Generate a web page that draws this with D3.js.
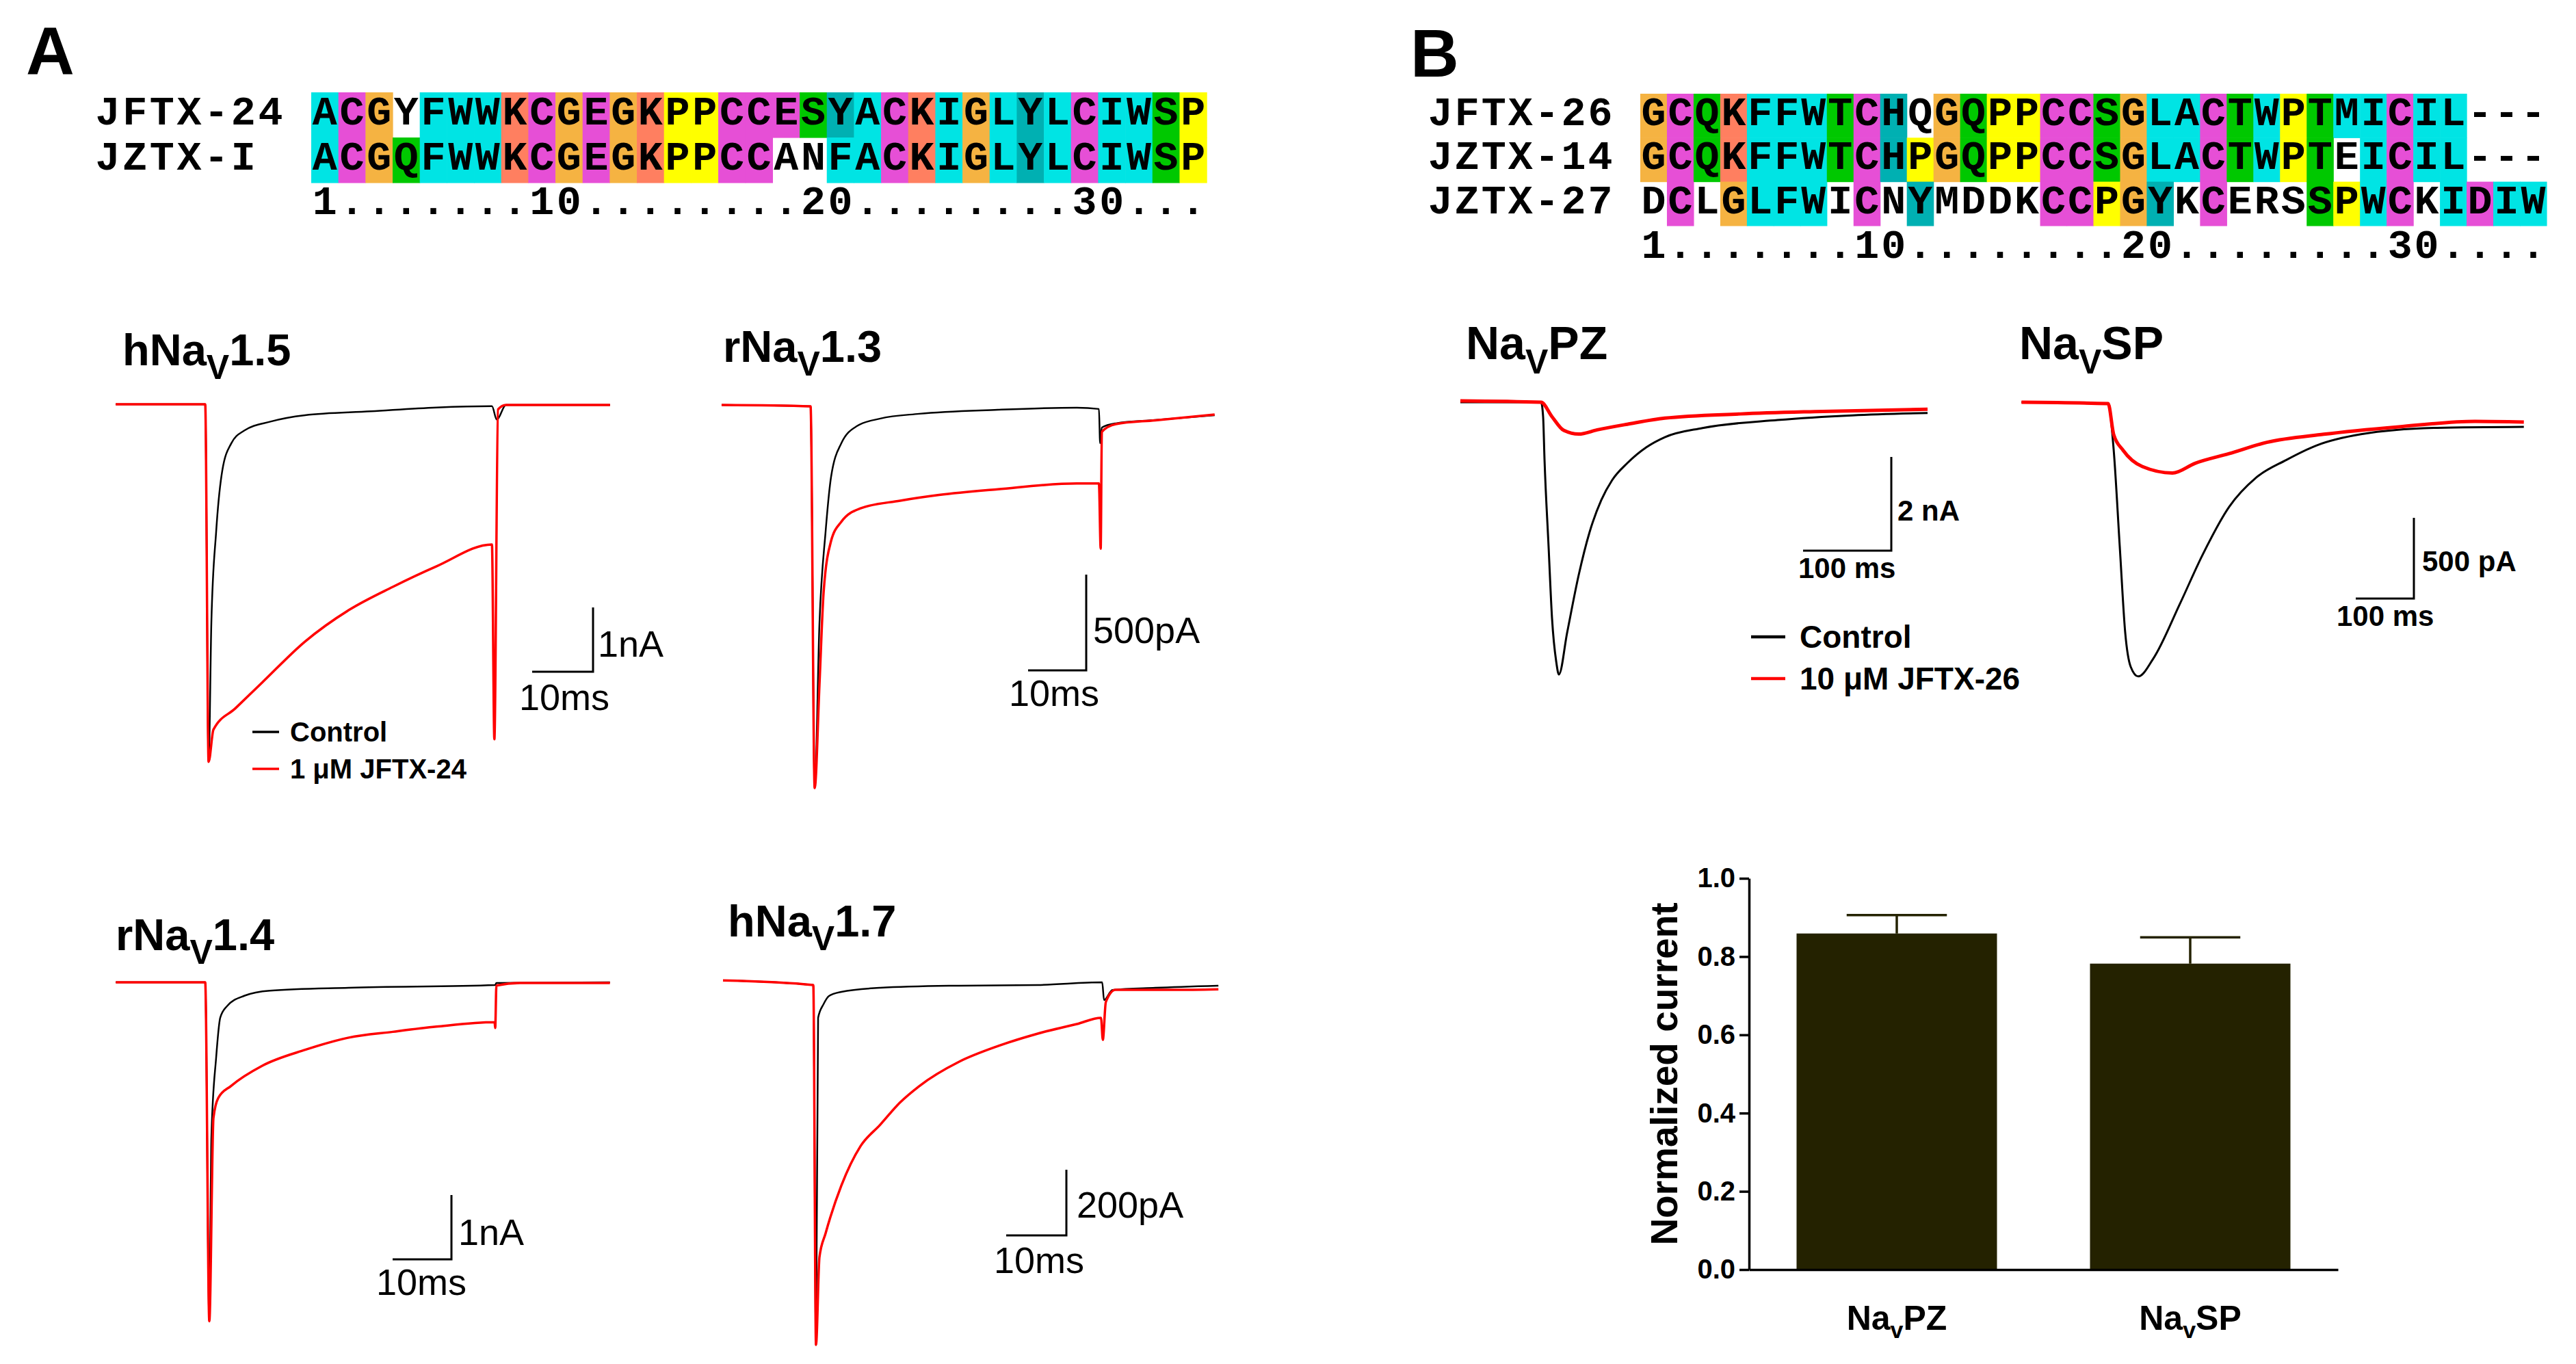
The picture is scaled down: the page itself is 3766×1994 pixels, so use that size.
<!DOCTYPE html>
<html>
<head>
<meta charset="utf-8">
<script src="https://cdn.jsdelivr.net/npm/d3@7.9.0/dist/d3.min.js"></script>
<style>
  html, body { margin: 0; padding: 0; background: #fff; }
  svg { display: block; }
  text { font-family: Arial, 'Liberation Sans', Helvetica, sans-serif; }
  .seq { font-family: 'Courier New', 'Liberation Mono', monospace; font-weight: bold; }
</style>
</head>
<body>
<svg id="fig"></svg>
<script>
// ---- alignment data ----
const alignANames = ['JFTX-24', 'JZTX-I'];
const alignASeqs = ['ACGYFWWKCGEGKPPCCESYACKIGLYLCIWSP', 'ACGQFWWKCGEGKPPCCANFACKIGLYLCIWSP'];
// colour class per residue (w = no shading)
const alignAColors = ['cmowcccrmomoryymmmgtcmrcoctcmccgy', 'cmogcccrmomoryymmwwccmrcoctcmccgy'];
const alignARuler = '1.......10........20........30...';

const alignBNames = ['JFTX-26', 'JZTX-14', 'JZTX-27'];
const alignBSeqs = ['GCQKFFWTCHQGQPPCCSGLACTWPTMICIL---', 'GCQKFFWTCHPGQPPCCSGLACTWPTEICIL---', 'DCLGLFWICNYMDDKCCPGYKCERSSPWCKIDIW'];
const alignBColors = ['omgrcccgmtwogyymmgoccmgcygccmccwww', 'omgrcccgmtyogyymmgoccmgcygwcmccwww', 'wmwocccwmwtwwwwmmyotwmwwwgycmwcmcc'];
const alignBRuler = '1.......10........20........30....';

const residueColors = { c: '#00e4e4', m: '#e64fd6', o: '#f5b342', r: '#ff7f60', y: '#ffff00', g: '#00c800', t: '#00b0b2' };

// ---- current traces: [time (ms), current (nA)] ----
const hNav15Ctrl = [[-14.7,0],[0,0],[0.56,-5.56],[1.01,-3.40],[1.80,-1.98],[2.81,-1.03],[4.27,-0.61],[6.40,-0.41],[10.7,-0.27],[16.4,-0.17],[27.2,-0.11],[38.0,-0.05],[47.1,-0.03],[47.9,-0.24],[49.4,-0.01],[66.5,-0.01]];
const hNav15Tox = [[-14.7,0],[0,0],[0.56,-5.56],[1.35,-5.06],[4.94,-4.73],[9.33,-4.33],[16.4,-3.69],[23.6,-3.20],[30.8,-2.84],[38.0,-2.52],[47.1,-2.18],[47.5,-5.21],[48.1,-0.08],[49.4,-0.01],[66.5,-0.01]];

const rNav13Ctrl = [[-15.3,0],[0,-0.007],[0.71,-2.00],[1.53,-1.14],[2.59,-0.66],[3.53,-0.375],[5.29,-0.20],[8.0,-0.11],[12.0,-0.071],[18.7,-0.046],[32.2,-0.025],[45.8,-0.014],[49.6,-0.021],[49.8,-0.20],[50.1,-0.118],[52.5,-0.096],[59.3,-0.079],[69.5,-0.054]];
const rNav13Tox = [[-15.3,0],[0,-0.007],[0.71,-2.00],[1.53,-1.46],[2.24,-0.98],[3.53,-0.71],[5.29,-0.61],[8.59,-0.54],[15.4,-0.50],[22.1,-0.47],[32.2,-0.44],[45.8,-0.41],[49.6,-0.41],[49.9,-0.75],[50.1,-0.14],[52.5,-0.10],[59.3,-0.08],[69.5,-0.05]];

const rNav14Ctrl = [[-15.2,0],[0,0],[0.70,-5.27],[1.05,-2.41],[1.86,-1.17],[2.56,-0.55],[3.72,-0.37],[6.63,-0.21],[11.0,-0.13],[24.4,-0.085],[49.3,-0.043],[49.5,-0.01],[68.8,0]];
const rNav14Tox = [[-15.2,0],[0,0],[0.70,-5.27],[1.40,-2.11],[2.21,-1.80],[4.42,-1.61],[9.65,-1.30],[17.0,-1.05],[24.4,-0.86],[31.9,-0.77],[39.3,-0.69],[49.2,-0.62],[49.3,-0.71],[49.5,-0.05],[53.5,-0.01],[68.8,-0.01]];

const hNav17Ctrl = [[-15.0,0.010],[0,-0.004],[0.45,-1.10],[0.80,-0.104],[1.70,-0.0625],[2.61,-0.0375],[4.66,-0.025],[11.1,-0.0125],[24.2,-0.006],[37.3,-0.004],[48.0,0.004],[48.3,-0.050],[49.7,-0.019],[56.8,-0.0125],[67.3,-0.006]];
const hNav17Tox = [[-15.0,0.010],[0,-0.004],[0.45,-1.10],[1.02,-0.833],[2.05,-0.760],[4.66,-0.615],[7.84,-0.495],[11.1,-0.430],[14.4,-0.362],[17.6,-0.312],[24.2,-0.238],[30.7,-0.190],[37.3,-0.152],[43.8,-0.123],[47.8,-0.104],[48.1,-0.171],[48.6,-0.056],[50.2,-0.019],[60.1,-0.019],[67.3,-0.017]];

const navPZCtrl = [[-91.5,0],[0,0],[2.3,-0.31],[3.9,-1.23],[8.5,-3.08],[12.4,-4.61],[17.1,-5.53],[20.2,-5.81],[29.5,-4.92],[42.6,-3.69],[55.0,-2.77],[68.2,-2.09],[80.6,-1.66],[97.7,-1.30],[119.4,-0.96],[140.3,-0.745],[183,-0.55],[268,-0.38],[353,-0.28],[438,-0.23]];
const navPZTox = [[-91.5,0.03],[0,0],[12.4,-0.31],[25.6,-0.60],[42.6,-0.68],[63.6,-0.59],[97.7,-0.47],[140,-0.34],[226,-0.25],[310,-0.20],[438,-0.15]];

const navSPCtrl = [[-149,0.008],[0,0],[9.4,-0.28],[20,-0.886],[29.4,-1.42],[38.8,-1.63],[51.8,-1.69],[77.6,-1.58],[123.5,-1.24],[162,-0.94],[208,-0.64],[254,-0.46],[306,-0.35],[358,-0.26],[435,-0.19],[566,-0.15],[715,-0.144]];
const navSPTox = [[-149,0.008],[0,0],[9.4,-0.19],[25.9,-0.29],[58.8,-0.39],[110.6,-0.43],[149.4,-0.37],[208,-0.31],[273,-0.24],[371,-0.19],[500,-0.144],[631,-0.11],[715,-0.114]];

// ---- bar chart data ----
const barCats = ['PZ', 'SP'];
const barMeans = [0.859, 0.782];
const barSem = [0.047, 0.067];
const barTicks = [0, 0.2, 0.4, 0.6, 0.8, 1.0];

const W = 3766, H = 1994;
const svg = d3.select('#fig').attr('width', W).attr('height', H).attr('viewBox', `0 0 ${W} ${H}`);
svg.append('rect').attr('width', W).attr('height', H).attr('fill', '#fff');

// panel letters
svg.append('text').attr('x', 38).attr('y', 108).attr('font-size', 98).attr('font-weight', 'bold').text('A');
svg.append('text').attr('x', 2062).attr('y', 112).attr('font-size', 98).attr('font-weight', 'bold').text('B');

function drawAlignment(names, seqs, colors, ruler, cfg) {
  const g = svg.append('g');
  const n = seqs[0].length;
  const col = d3.scaleLinear().domain([0, n]).range([cfg.x0, cfg.x0 + n * cfg.pitch]);
  const row = d3.scaleBand().domain(d3.range(seqs.length)).range([cfg.top, cfg.top + seqs.length * cfg.rowH]);
  const cw = col(1) - col(0);

  seqs.forEach((seq, r) => {
    const cells = seq.split('').map((ch, i) => ({ ch, i, c: colors[r][i] }));
    g.append('g').selectAll('rect')
      .data(cells.filter((d) => d.c !== 'w'))
      .join('rect')
      .attr('x', (d) => col(d.i))
      .attr('y', row(r))
      .attr('width', cw + 0.6)
      .attr('height', row.bandwidth() + 0.6)
      .attr('fill', (d) => residueColors[d.c]);

    g.append('g').selectAll('text')
      .data(cells)
      .join('text')
      .attr('class', 'seq')
      .attr('x', (d) => col(d.i + 0.5))
      .attr('y', row(r) + cfg.base)
      .attr('text-anchor', 'middle')
      .attr('font-size', cfg.fs)
      .text((d) => d.ch);

    // name, one character per column, starting 8 columns before the sequence
    g.append('g').selectAll('text')
      .data(names[r].split(''))
      .join('text')
      .attr('class', 'seq')
      .attr('x', (d, j) => col(j - 8 + 0.5))
      .attr('y', row(r) + cfg.base)
      .attr('text-anchor', 'middle')
      .attr('font-size', cfg.fs)
      .text((d) => d);
  });

  g.append('g').selectAll('text')
    .data(ruler.split(''))
    .join('text')
    .attr('class', 'seq')
    .attr('x', (d, i) => col(i + 0.5))
    .attr('y', cfg.rulerY)
    .attr('text-anchor', 'middle')
    .attr('font-size', cfg.fs)
    .text((d) => d);
}

drawAlignment(alignANames, alignASeqs, alignAColors, alignARuler,
  { x0: 455, pitch: 39.67, top: 135, rowH: 66, base: 47, rulerY: 313, fs: 60 });
drawAlignment(alignBNames, alignBSeqs, alignBColors, alignBRuler,
  { x0: 2398, pitch: 38.97, top: 137, rowH: 64.3, base: 46, rulerY: 377, fs: 60 });

// label with subscript V: parts = [before, sub, after]
function subLabel(x, y, parts, size, subSize, dy) {
  const t = svg.append('text').attr('x', x).attr('y', y).attr('font-size', size).attr('font-weight', 'bold');
  t.append('tspan').text(parts[0]);
  t.append('tspan').attr('font-size', subSize).attr('dy', dy).text(parts[1]);
  t.append('tspan').attr('dy', -dy).text(parts[2]);
  return t;
}

const tracePanels = [
  { name: ['hNa', 'V', '1.5'], lx: 179, ly: 534, x0: 300, y0: 591, pxMs: 8.9, pxNa: 94, ctrl: hNav15Ctrl, tox: hNav15Tox,
    bar: { x: 867, y: 982, ms: 10, na: 1, vText: '1nA', hText: '10ms', vx: 874, vy: 960, hx: 759, hy: 1038 } },
  { name: ['rNa', 'V', '1.3'], lx: 1057, ly: 529, x0: 1185, y0: 592, pxMs: 8.5, pxNa: 280, ctrl: rNav13Ctrl, tox: rNav13Tox,
    bar: { x: 1588, y: 980, ms: 10, na: 0.5, vText: '500pA', hText: '10ms', vx: 1598, vy: 940, hx: 1475, hy: 1032 } },
  { name: ['rNa', 'V', '1.4'], lx: 169, ly: 1389, x0: 300, y0: 1436, pxMs: 8.6, pxNa: 94, ctrl: rNav14Ctrl, tox: rNav14Tox,
    bar: { x: 660, y: 1841, ms: 10, na: 1, vText: '1nA', hText: '10ms', vx: 670, vy: 1820, hx: 550, hy: 1893 } },
  { name: ['hNa', 'V', '1.7'], lx: 1064, ly: 1369, x0: 1189, y0: 1438, pxMs: 8.8, pxNa: 480, ctrl: hNav17Ctrl, tox: hNav17Tox,
    bar: { x: 1559, y: 1806, ms: 10, na: 0.2, vText: '200pA', hText: '10ms', vx: 1574, vy: 1780, hx: 1453, hy: 1861 } },
  { name: ['Na', 'V', 'PZ'], lx: 2143, ly: 525, x0: 2253, y0: 588, pxMs: 1.29, pxNa: 68.5, ctrl: navPZCtrl, tox: navPZTox, big: true,
    bar: { x: 2765, y: 805, ms: 100, na: 2, vText: '2 nA', hText: '100 ms', vx: 2774, vy: 761, hx: 2629, hy: 845 } },
  { name: ['Na', 'V', 'SP'], lx: 2952, ly: 525, x0: 3082, y0: 590, pxMs: 0.85, pxNa: 236, ctrl: navSPCtrl, tox: navSPTox, big: true,
    bar: { x: 3529, y: 875, ms: 100, na: 0.5, vText: '500 pA', hText: '100 ms', vx: 3541, vy: 835, hx: 3416, hy: 915 } },
];

tracePanels.forEach((p) => {
  const x = d3.scaleLinear().domain([0, 1]).range([p.x0, p.x0 + p.pxMs]);
  const y = d3.scaleLinear().domain([0, -1]).range([p.y0, p.y0 + p.pxNa]);
  const line = d3.line().x((d) => x(d[0])).y((d) => y(d[1])).curve(d3.curveMonotoneX);
  const g = svg.append('g');

  if (p.big) subLabel(p.lx, p.ly, p.name, 68, 50, 21);
  else subLabel(p.lx, p.ly, p.name, 65, 50, 20);

  g.append('path').datum(p.ctrl).attr('d', line)
    .attr('fill', 'none').attr('stroke', '#000').attr('stroke-width', p.big ? 3 : 2.5).attr('stroke-linejoin', 'round');
  g.append('path').datum(p.tox).attr('d', line)
    .attr('fill', 'none').attr('stroke', '#ff0000').attr('stroke-width', p.big ? 5 : 3.5).attr('stroke-linejoin', 'round');

  // scale bar
  const b = p.bar;
  const hLen = x(b.ms) - x(0);
  const vLen = y(-b.na) - y(0);
  g.append('path')
    .attr('d', `M${b.x - hLen},${b.y}H${b.x}V${b.y - vLen}`)
    .attr('fill', 'none').attr('stroke', '#000').attr('stroke-width', 3);
  const fs = p.big ? 42 : 54;
  const fw = p.big ? 'bold' : 'normal';
  g.append('text').attr('x', b.vx).attr('y', b.vy).attr('font-size', fs).attr('font-weight', fw).text(b.vText);
  g.append('text').attr('x', b.hx).attr('y', b.hy).attr('font-size', fs).attr('font-weight', fw).text(b.hText);
});

// legends
function legend(items, cfg) {
  const g = svg.append('g');
  items.forEach((it, i) => {
    const yy = cfg.y + i * cfg.step;
    g.append('line').attr('x1', cfg.x).attr('x2', cfg.x + cfg.len).attr('y1', yy).attr('y2', yy)
      .attr('stroke', it.color).attr('stroke-width', cfg.sw);
    g.append('text').attr('x', cfg.tx).attr('y', yy + cfg.dy).attr('font-size', cfg.fs).attr('font-weight', 'bold').text(it.label);
  });
}
legend([{ label: 'Control', color: '#000' }, { label: '1 μM JFTX-24', color: '#ff0000' }],
  { x: 369, len: 39, y: 1070, step: 54, tx: 424, dy: 14, fs: 40, sw: 3.5 });
legend([{ label: 'Control', color: '#000' }, { label: '10 μM JFTX-26', color: '#ff0000' }],
  { x: 2560, len: 50, y: 931, step: 61, tx: 2631, dy: 16, fs: 46, sw: 4.5 });

// ---- bar chart ----
const bx = d3.scaleBand().domain(barCats).range([2557, 3418]).paddingInner(0.317).paddingOuter(0.162);
const by = d3.scaleLinear().domain([0, 1]).range([1856, 1284]);
const barColor = '#242200';

const bars = svg.append('g');
bars.selectAll('rect')
  .data(barCats)
  .join('rect')
  .attr('x', (d) => bx(d))
  .attr('y', (d, i) => by(barMeans[i]))
  .attr('width', bx.bandwidth())
  .attr('height', (d, i) => by(0) - by(barMeans[i]))
  .attr('fill', barColor);

bars.selectAll('path.err')
  .data(barCats)
  .join('path')
  .attr('class', 'err')
  .attr('d', (d, i) => {
    const cx = bx(d) + bx.bandwidth() / 2;
    const top = by(barMeans[i] + barSem[i]);
    const half = bx.bandwidth() / 4;
    return `M${cx},${by(barMeans[i])}V${top}M${cx - half},${top}H${cx + half}`;
  })
  .attr('fill', 'none').attr('stroke', barColor).attr('stroke-width', 3.5);

const gy = svg.append('g')
  .attr('transform', 'translate(2557,0)')
  .call(d3.axisLeft(by).tickValues(barTicks).tickFormat(d3.format('.1f')).tickSize(14).tickSizeOuter(0).tickPadding(6));
gy.attr('font-family', null);
gy.select('.domain').attr('stroke-width', 3.5);
gy.selectAll('.tick line').attr('stroke-width', 3.5);
gy.selectAll('.tick text').attr('font-size', 40).attr('font-weight', 'bold');

const gx = svg.append('g')
  .attr('transform', 'translate(0,1856)')
  .call(d3.axisBottom(bx).tickSize(0).tickFormat(''));
gx.select('.domain').attr('stroke-width', 3.5);

svg.append('g').selectAll('text')
  .data(barCats)
  .join('text')
  .attr('x', (d) => bx(d) + bx.bandwidth() / 2)
  .attr('y', 1944)
  .attr('text-anchor', 'middle')
  .attr('font-size', 50)
  .attr('font-weight', 'bold')
  .each(function (d) {
    const t = d3.select(this);
    t.append('tspan').text('Na');
    t.append('tspan').attr('font-size', 34).attr('dy', 12).text('v');
    t.append('tspan').attr('dy', -12).text(d);
  });

svg.append('text')
  .attr('transform', 'translate(2452,1570) rotate(-90)')
  .attr('text-anchor', 'middle')
  .attr('font-size', 55)
  .attr('font-weight', 'bold')
  .text('Normalized current');
</script>
</body>
</html>
